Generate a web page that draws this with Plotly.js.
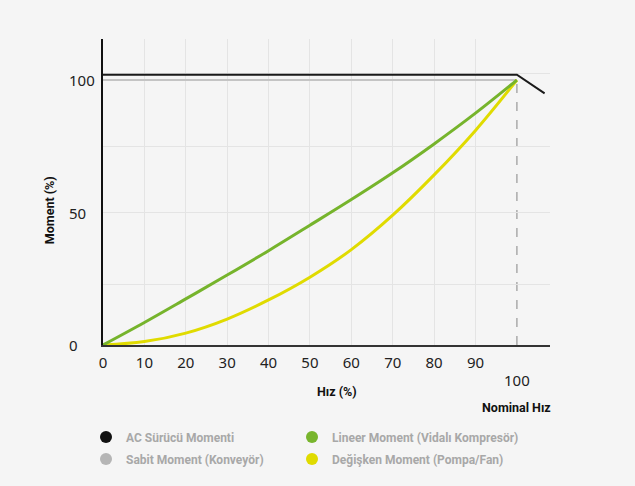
<!DOCTYPE html>
<html>
<head>
<meta charset="utf-8">
<script src="https://cdn.plot.ly/plotly-3.0.1.min.js"></script>
<style>html,body{margin:0;padding:0;background:#f5f5f5;}#chart{width:635px;height:486px;}</style>
</head>
<body>
<div id="chart"></div>
<script>
// Data
const speed = [0, 10, 20, 30, 40, 50, 60, 70, 80, 90, 100];
const lineerMoment = [0, 8.5, 17.4, 26.4, 35.6, 45.2, 54.9, 65, 75.9, 87.5, 100];
const degiskenMoment = [0, 1.3, 4.5, 9.8, 17, 25.6, 36, 49, 64.2, 81, 100];
const acSpeed = [0, 100, 106.7];
const acMoment = [102, 102, 95];
const sabitSpeed = [0, 100];
const sabitMoment = [100, 100];

const xTickVals = [0, 10, 20, 30, 40, 50, 60, 70, 80, 90];
const xTickText = ['0', '10', '20', '30', '40', '50', '60', '70', '80', '90'];
const yTickVals = [0, 50, 100];
const yTickText = ['0', '50', '100'];
const yGridVals = [23, 50, 75, 102.5];
const nominalSpeed = 100;

const names = ['AC Sürücü Momenti', 'Sabit Moment (Konveyör)', 'Lineer Moment (Vidalı Kompresör)', 'Değişken Moment (Pompa/Fan)'];
const colors = ['#111111', '#b5b5b5', '#78b52d', '#e0db00'];
const legendOf = ['legend', 'legend', 'legend2', 'legend2'];

const traces = [
  {x: sabitSpeed, y: sabitMoment, mode: 'lines', line: {color: '#c4c4c4', width: 2}, showlegend: false, hoverinfo: 'skip'},
  {x: acSpeed, y: acMoment, mode: 'lines', line: {color: '#1a1a1a', width: 2}, showlegend: false, hoverinfo: 'skip'},
  {x: speed, y: degiskenMoment, mode: 'lines', line: {color: '#e0db00', width: 3, shape: 'spline', smoothing: 1}, showlegend: false, hoverinfo: 'skip'},
  {x: speed, y: lineerMoment, mode: 'lines', line: {color: '#76b42c', width: 3, shape: 'spline', smoothing: 1}, showlegend: false, hoverinfo: 'skip'}
];
names.forEach((n, i) => {
  traces.push({x: [null], y: [null], mode: 'markers', name: n, legend: legendOf[i], legendgroup: 'g' + i,
    marker: {color: colors[i], size: 12, symbol: 'circle'}});
});

const annotations = [];
yTickVals.forEach((v, i) => {
  annotations.push({xref: 'paper', yref: 'y', x: -0.081, y: v, text: yTickText[i], showarrow: false,
    xanchor: 'left', yanchor: 'middle', font: {family: 'Noto Sans', size: 15, color: '#222'}});
});
annotations.push({xref: 'x', yref: 'paper', x: nominalSpeed, y: -0.115, text: '100', showarrow: false,
  xanchor: 'center', yanchor: 'middle', font: {family: 'Noto Sans', size: 15, color: '#222'}});
annotations.push({xref: 'x', yref: 'paper', x: nominalSpeed, y: -0.205, text: '<b>Nominal Hız</b>', showarrow: false,
  xanchor: 'center', yanchor: 'middle', font: {family: 'Roboto', size: 12.5, color: '#111'}});
annotations.push({xref: 'x', yref: 'paper', x: 56.5, y: -0.151, text: '<b>Hız (%)</b>', showarrow: false,
  xanchor: 'center', yanchor: 'middle', font: {family: 'Roboto', size: 12.5, color: '#111'}});
annotations.push({xref: 'paper', yref: 'paper', x: -0.119, y: 0.44, text: '<b>Moment (%)</b>', showarrow: false,
  textangle: -90, xanchor: 'center', yanchor: 'middle', font: {family: 'Roboto', size: 12.5, color: '#111'}});

const layout = {
  width: 635, height: 486,
  paper_bgcolor: '#f5f5f5', plot_bgcolor: '#f5f5f5',
  margin: {l: 103, r: 85, t: 39, b: 141, autoexpand: false},
  xaxis: {range: [0, 108], tickvals: xTickVals, ticktext: xTickText, showgrid: true, gridcolor: '#e4e4e4', gridwidth: 1,
    showline: true, linecolor: '#333', linewidth: 2, zeroline: false, ticks: '', fixedrange: true, automargin: false,
    ticklabelstandoff: 3,
    tickfont: {family: 'Noto Sans', size: 15, color: '#222'}},
  yaxis: {range: [0, 115.5], tickvals: yGridVals, showticklabels: false, showgrid: true, gridcolor: '#e4e4e4', gridwidth: 1,
    showline: true, linecolor: '#111', linewidth: 2, zeroline: false, ticks: '', fixedrange: true, automargin: false},
  shapes: [{type: 'line', xref: 'x', yref: 'y', x0: nominalSpeed, x1: nominalSpeed, y0: -6.8, y1: 100,
    line: {color: '#aaaaaa', width: 1.5, dash: 'dash'}, layer: 'below'}],
  annotations: annotations,
  legend: {xref: 'container', yref: 'container', x: 86 / 635, y: 1 - 422.5 / 486, xanchor: 'left', yanchor: 'top',
    orientation: 'v', tracegroupgap: 3, bgcolor: 'rgba(0,0,0,0)', itemclick: false,
    font: {family: 'Roboto', size: 12, color: '#a8a8a8', weight: 'bold'}},
  legend2: {xref: 'container', yref: 'container', x: 292 / 635, y: 1 - 422.5 / 486, xanchor: 'left', yanchor: 'top',
    orientation: 'v', tracegroupgap: 3, bgcolor: 'rgba(0,0,0,0)', itemclick: false,
    font: {family: 'Roboto', size: 12, color: '#a8a8a8', weight: 'bold'}},
  showlegend: true
};

Plotly.newPlot('chart', traces, layout, {displayModeBar: false, staticPlot: true});
</script>
</body>
</html>
